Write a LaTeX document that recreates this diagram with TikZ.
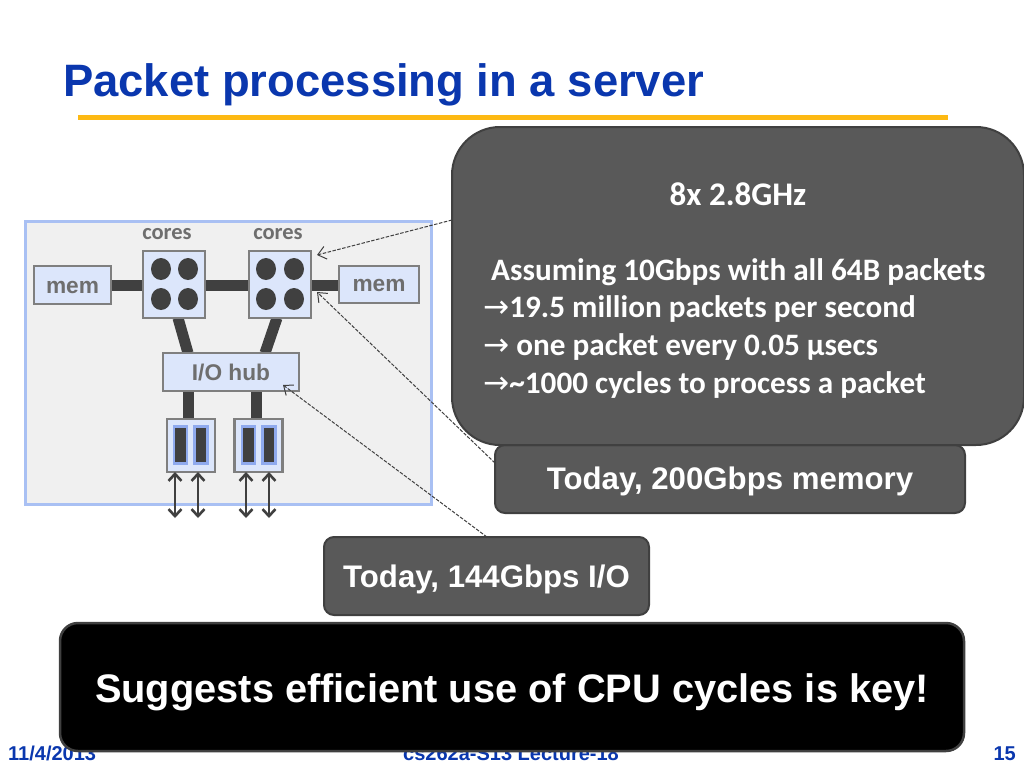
\documentclass[tikz,border=0pt]{standalone}
\usepackage{fontspec}
\setmainfont{Liberation Sans}
\newfontfamily\calib{Carlito}
\newfontfamily\arrowfont{DejaVu Sans}
\usetikzlibrary{arrows.meta,calc,shapes.geometric}
\definecolor{titleblue}{HTML}{0A37AE}
\definecolor{rulegold}{HTML}{FDB913}
\definecolor{panelfill}{HTML}{F0F0F0}
\definecolor{panelline}{HTML}{A9C0F3}
\definecolor{boxfill}{HTML}{DCE6FB}
\definecolor{boxline}{HTML}{7F7F7F}
\definecolor{darkbar}{HTML}{404040}
\definecolor{labelgray}{HTML}{6E6E6E}
\definecolor{slotblue}{HTML}{8FAAEE}
\definecolor{callout}{HTML}{595959}
\definecolor{calloutline}{HTML}{404040}
\tikzset{
  px/.style={x=1pt,y=-1pt},
  pbox/.style={draw=boxline,fill=boxfill,line width=2.2pt,outer sep=0pt,inner sep=0pt,text=labelgray,font=\fontsize{22.7}{24}\selectfont\bfseries},
  bar/.style={draw=darkbar,line width=11pt},
  slot/.style={draw=slotblue,fill=darkbar,line width=2.5pt,outer sep=0pt,inner sep=0pt,minimum width=13pt,minimum height=37pt},
  dot/.style={fill=darkbar,draw=none,ellipse,minimum width=20pt,minimum height=22pt,inner sep=0pt},
  leader/.style={draw=darkbar,line width=1pt,dash pattern=on 3.5pt off 1.5pt,-{Straight Barb[length=8pt,width=13pt,line width=1pt]}},
  io/.style={draw=darkbar,line width=2.2pt,{Straight Barb[length=7pt,width=13pt,line width=2.6pt]}-{Straight Barb[length=7pt,width=13pt,line width=2.6pt]}},
  note/.style={draw=calloutline,fill=callout,line width=2pt,outer sep=0pt,inner sep=0pt,text=white,text depth=0pt,font=\fontsize{31.2}{34}\selectfont\bfseries},
  foot/.style={text=titleblue,inner sep=0pt,font=\fontsize{20}{22}\selectfont\bfseries},
  coreslabel/.style={text=labelgray,inner sep=0pt,font=\calib\fontsize{22.5}{24}\selectfont\bfseries},
}
\begin{document}
\begin{tikzpicture}[px]
\useasboundingbox (0,0) rectangle (1024,768);
\fill[white] (0,0) rectangle (1024,768);
% title and footer
\node[anchor=base west,inner sep=0pt,text=titleblue,font=\fontsize{45.4}{48}\selectfont\bfseries] (title) at (63,96) {Packet processing in a server};
\fill[rulegold] (78,114.5) rectangle (948,119.5);
\node[foot,anchor=base west] (date) at (8,760) {11/4/2013};
\node[foot,anchor=base] (lect) at (511,760) {cs262a-S13 Lecture-18};
\node[foot,anchor=base east] (page) at (1016,760) {15};
% panel
\draw[draw=panelline,fill=panelfill,line width=3pt] (25,221) rectangle (431,504);
\node[coreslabel] (c1lab) at (167,234.5) {cores};
\node[coreslabel] (c2lab) at (278,234.5) {cores};
% bars sit under the boxes
\coordinate (m1e) at (111,285);
\coordinate (c1w) at (143,285);
\coordinate (c1e) at (205,285);
\coordinate (c2w) at (249,285);
\coordinate (c2e) at (311,285);
\coordinate (m2w) at (339,285);
\coordinate (c1s) at (178,318);
\coordinate (c2s) at (277,318);
\coordinate (h1) at (188,353);
\coordinate (h2) at (265,353);
\coordinate (h3) at (188,391);
\coordinate (h4) at (256,391);
\coordinate (k1) at (188,419);
\coordinate (k2) at (256,419);
\draw[bar] (m1e) -- (c1w);
\draw[bar] (c1e) -- (c2w);
\draw[bar] (c2e) -- (m2w);
\draw[bar] (c1s) -- (h1);
\draw[bar] (c2s) -- (h2);
\draw[bar] (h3) -- (k1);
\draw[bar] (h4) -- (k2);
\node[pbox,text height=16pt,text depth=0pt,minimum width=77pt,minimum height=38pt] (mem1) at (72.5,285) {mem};
\node[pbox,text height=14pt,text depth=0pt,minimum width=80pt,minimum height=37pt] (mem2) at (379,284.5) {mem};
\node[pbox,minimum width=62pt,minimum height=67pt] (core1) at (174,284.5) {};
\node[pbox,minimum width=62pt,minimum height=67pt] (core2) at (280,284.5) {};
\node[dot] (d1) at (161,269) {};
\node[dot] (d2) at (188,269) {};
\node[dot] (d3) at (161,299) {};
\node[dot] (d4) at (188,299) {};
\node[dot] (d5) at (266,269) {};
\node[dot] (d6) at (294,269) {};
\node[dot] (d7) at (266,299) {};
\node[dot] (d8) at (294,299) {};
\node[pbox,minimum width=136pt,minimum height=38pt] (hub) at (231,372) {I/O hub};
\node[pbox,minimum width=48pt,minimum height=53pt] (card1) at (191,445.5) {};
\node[pbox,minimum width=48pt,minimum height=53pt] (card2) at (258.5,445.5) {};
\node[slot] (s1) at (180.5,445) {};
\node[slot] (s2) at (201,445) {};
\node[slot] (s3) at (248.5,445) {};
\node[slot] (s4) at (269,445) {};
\coordinate (a1) at (175,518);
\coordinate (a2) at (198,518);
\coordinate (a3) at (246,518);
\coordinate (a4) at (269,518);
\draw[io] (card1.south west -| a1) -- (a1);
\draw[io] (card1.south west -| a2) -- (a2);
\draw[io] (card2.south west -| a3) -- (a3);
\draw[io] (card2.south west -| a4) -- (a4);
% callouts
\node[note,text height=20pt,minimum width=470pt,minimum height=68pt,rounded corners=10pt] (mem200) at (730,479) {Today, 200Gbps memory};
\node[note,text height=22pt,minimum width=325pt,minimum height=78pt,rounded corners=10pt] (io144) at (486.5,576) {Today, 144Gbps I/O};
\node[note,minimum width=572pt,minimum height=318pt,rounded corners=48pt,anchor=north west] (big) at (452,127) {};
\node[text=white,inner sep=0pt,font=\calib\fontsize{33}{36}\selectfont\bfseries] (l0) at (738,194) {8x 2.8GHz};
\node[text=white,inner sep=0pt,anchor=base west,align=left,font=\calib\fontsize{31.2}{37.8}\selectfont\bfseries] (l1) at (483,393.5) {\hspace*{8pt}Assuming 10Gbps with all 64B packets\\{\arrowfont\mdseries →}19.5 million packets per second\\{\arrowfont\mdseries →} one packet every 0.05 µsecs\\{\arrowfont\mdseries →}\textasciitilde 1000 cycles to process a packet};
\node[draw=calloutline,fill=black,line width=2.5pt,outer sep=0pt,inner sep=0pt,minimum width=904pt,minimum height=128pt,rounded corners=18pt,text=white,text height=30pt,text depth=0pt,font=\fontsize{39.8}{42}\selectfont\bfseries] (key) at (512,687) {Suggests efficient use of CPU cycles is key!};
% leaders
\coordinate (t1) at (317,255);
\coordinate (t2) at (317,292);
\coordinate (t3) at (283,385);
\coordinate (f1) at (452,220);
\coordinate (f2) at (495,463);
\coordinate (f3) at (487,537);
\draw[leader] (f1) -- (t1);
\draw[leader] (f2) -- (t2);
\draw[leader] (f3) -- (t3);
\end{tikzpicture}
\end{document}
